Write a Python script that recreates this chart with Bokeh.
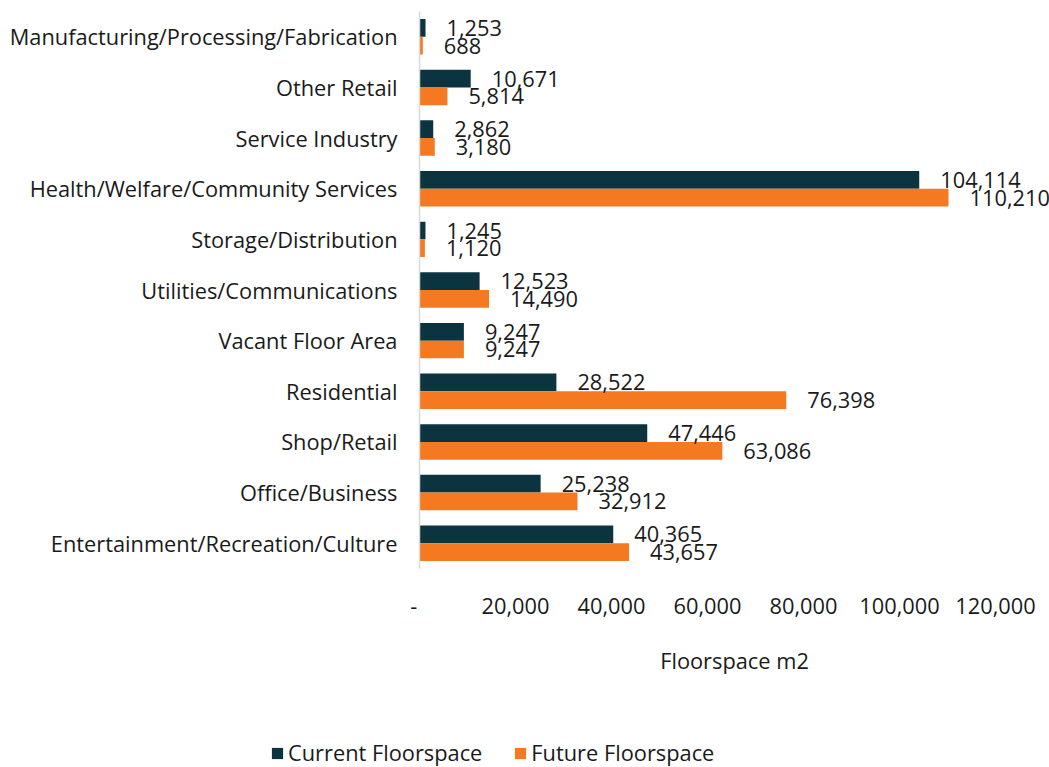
from bokeh.plotting import figure
from bokeh.layouts import column
from bokeh.models import (FactorRange, Range1d, FixedTicker, NumeralTickFormatter,
                          Legend, LegendItem, ColumnDataSource)
from bokeh.transform import dodge
from bokeh.core.properties import value
from bokeh.embed import file_html
from bokeh.resources import INLINE

categories = [
    "Manufacturing/Processing/Fabrication",
    "Other Retail",
    "Service Industry",
    "Health/Welfare/Community Services",
    "Storage/Distribution",
    "Utilities/Communications",
    "Vacant Floor Area",
    "Residential",
    "Shop/Retail",
    "Office/Business",
    "Entertainment/Recreation/Culture",
]
current = [1253, 10671, 2862, 104114, 1245, 12523, 9247, 28522, 47446, 25238, 40365]
future = [688, 5814, 3180, 110210, 1120, 14490, 9247, 76398, 63086, 32912, 43657]
x_ticks = [0, 20000, 40000, 60000, 80000, 100000, 120000]
series_names = ["Current Floorspace", "Future Floorspace"]

FONT = "Open Sans"
FS = "21.8px"
TXT = "#1a1a1a"
C_CUR = "#0c3440"
C_FUT = "#f47920"

source = ColumnDataSource(dict(
    cat=categories, current=current, future=future,
    current_lbl=[f"{v:,}" for v in current],
    future_lbl=[f"{v:,}" for v in future],
))

p = figure(width=1049, height=727,
           y_range=FactorRange(factors=categories[::-1], range_padding=0),
           x_range=Range1d(0, 131250),
           output_backend="svg", toolbar_location=None,
           min_border_left=419, min_border_top=11, min_border_right=0,
           min_border_bottom=159)

r1 = p.hbar(y=dodge("cat", 0.175, range=p.y_range), left=0, right="current", height=0.35,
            fill_color=C_CUR, line_color=None, source=source)
r2 = p.hbar(y=dodge("cat", -0.175, range=p.y_range), left=0, right="future", height=0.35,
            fill_color=C_FUT, line_color=None, source=source)

p.text(x="current", y=dodge("cat", 0.175, range=p.y_range), text="current_lbl",
       x_offset=21, text_align="left", text_baseline="middle",
       text_font=value(FONT), text_font_size=FS, text_color=TXT, source=source)
p.text(x="future", y=dodge("cat", -0.175, range=p.y_range), text="future_lbl",
       x_offset=21, text_align="left", text_baseline="middle",
       text_font=value(FONT), text_font_size=FS, text_color=TXT, source=source)

p.xgrid.visible = False
p.ygrid.visible = False
p.outline_line_color = None

xa = p.xaxis[0]
xa.ticker = FixedTicker(ticks=x_ticks)
xa.formatter = NumeralTickFormatter(format="0,0")
xa.major_label_overrides = {0: "-\u00a0\u00a0"}
xa.axis_line_color = None
xa.major_tick_line_color = None
xa.minor_tick_line_color = None
xa.major_label_text_font = FONT
xa.major_label_text_font_size = FS
xa.major_label_text_color = TXT
xa.major_label_standoff = 16
xa.axis_label = "Floorspace m2"
xa.axis_label_text_font = FONT
xa.axis_label_text_font_size = FS
xa.axis_label_text_font_style = "normal"
xa.axis_label_text_color = TXT
xa.axis_label_standoff = 23

ya = p.yaxis[0]
ya.axis_line_color = "#d9d9d9"
ya.axis_line_width = 1.5
ya.major_tick_line_color = None
ya.minor_tick_line_color = None
ya.major_label_text_font = FONT
ya.major_label_text_font_size = FS
ya.major_label_text_color = TXT
ya.major_label_standoff = 16

# legend strip below the chart
pl = figure(width=1049, height=40, x_range=Range1d(0, 1), y_range=Range1d(0, 1),
            output_backend="svg", toolbar_location=None,
            x_axis_location=None, y_axis_location=None,
            min_border_left=0, min_border_right=0, min_border_top=0, min_border_bottom=0)
pl.frame_align = False
pl.outline_line_color = None
pl.xgrid.visible = False
pl.ygrid.visible = False
l1 = pl.hbar(y=[-10], right=[1], left=[0], height=0.35, fill_color=C_CUR, line_color=None)
l2 = pl.hbar(y=[-10], right=[1], left=[0], height=0.35, fill_color=C_FUT, line_color=None)

legend = Legend(items=[LegendItem(label=series_names[0], renderers=[l1]),
                       LegendItem(label=series_names[1], renderers=[l2])],
                orientation="horizontal", location=(270, 0),
                label_text_font=FONT, label_text_font_size=FS, label_text_color=TXT,
                glyph_width=14, glyph_height=14, label_standoff=4, spacing=31,
                padding=0, margin=0, border_line_color=None, background_fill_alpha=0)
pl.add_layout(legend, "center")

layout = column(p, pl, spacing=0)
open("out.html", "w").write(file_html(layout, INLINE))
